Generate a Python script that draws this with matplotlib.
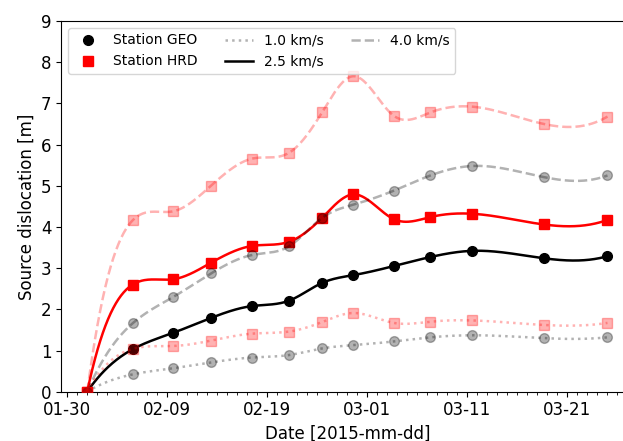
import numpy as np
import pandas as pd
import matplotlib
matplotlib.use("Agg")
import matplotlib.pyplot as plt
import matplotlib.dates as mdates
from matplotlib.lines import Line2D

# ---------------- data ----------------
dates = ["2015-02-01 00:45", "2015-02-05 13:40", "2015-02-09 15:05", "2015-02-13 09:35",
         "2015-02-17 12:45", "2015-02-21 04:50", "2015-02-24 12:00", "2015-02-27 15:05",
         "2015-03-03 16:00", "2015-03-07 08:00", "2015-03-11 12:45", "2015-03-18 16:00",
         "2015-03-25 00:45"]

geo_10 = [0, 0.42, 0.57, 0.71, 0.83, 0.89, 1.05, 1.13, 1.22, 1.32, 1.37, 1.30, 1.32]
geo_25 = [0, 1.03, 1.43, 1.79, 2.08, 2.21, 2.64, 2.83, 3.05, 3.27, 3.42, 3.24, 3.29]
geo_40 = [0, 1.66, 2.30, 2.87, 3.32, 3.53, 4.22, 4.54, 4.88, 5.25, 5.48, 5.21, 5.25]

hrd_10 = [0, 1.04, 1.11, 1.24, 1.41, 1.46, 1.69, 1.91, 1.67, 1.70, 1.73, 1.62, 1.67]
hrd_25 = [0, 2.60, 2.73, 3.13, 3.54, 3.64, 4.22, 4.79, 4.19, 4.24, 4.32, 4.06, 4.17]
hrd_40 = [0, 4.16, 4.38, 5.00, 5.66, 5.80, 6.78, 7.66, 6.70, 6.78, 6.92, 6.50, 6.68]

xtick_dates = ["2015-01-30", "2015-02-09", "2015-02-19", "2015-03-01", "2015-03-11", "2015-03-21"]
speed_labels = ["1.0 km/s", "2.5 km/s", "4.0 km/s"]
station_labels = ["Station GEO", "Station HRD"]


def cubic_spline(x, y, xs):
    """Not-a-knot cubic spline (as used for the smooth curves)."""
    x = np.asarray(x, float)
    y = np.asarray(y, float)
    n = len(x)
    h = np.diff(x)
    A = np.zeros((n, n))
    b = np.zeros(n)
    for i in range(1, n - 1):
        A[i, i - 1] = h[i - 1]
        A[i, i] = 2 * (h[i - 1] + h[i])
        A[i, i + 1] = h[i]
        b[i] = 6 * ((y[i + 1] - y[i]) / h[i] - (y[i] - y[i - 1]) / h[i - 1])
    A[0, 0] = h[1]
    A[0, 1] = -(h[0] + h[1])
    A[0, 2] = h[0]
    A[-1, -3] = h[-1]
    A[-1, -2] = -(h[-2] + h[-1])
    A[-1, -1] = h[-2]
    M = np.linalg.solve(A, b)
    idx = np.clip(np.searchsorted(x, xs) - 1, 0, n - 2)
    x0, x1 = x[idx], x[idx + 1]
    hh = x1 - x0
    y0, y1 = y[idx], y[idx + 1]
    m0, m1 = M[idx], M[idx + 1]
    return (m0 * (x1 - xs) ** 3 / (6 * hh) + m1 * (xs - x0) ** 3 / (6 * hh)
            + (y0 / hh - m0 * hh / 6) * (x1 - xs) + (y1 / hh - m1 * hh / 6) * (xs - x0))


xd = mdates.date2num(pd.to_datetime(dates).to_pydatetime())
xs = np.linspace(xd[0], xd[-1], 600)

plt.rcParams["font.family"] = ["DejaVu Sans"]
fig = plt.figure(figsize=(6.23, 4.41), dpi=100)
ax = fig.add_axes([61.2 / 623, 1 - 391.7 / 441, (633.5 - 61.2) / 623, (391.7 - 21) / 441])

lw = 1.8
ms = 7
fa = 0.3

# solid (2.5 km/s) series
ax.plot(xs, cubic_spline(xd, geo_25, xs), color="black", lw=lw, zorder=3)
ax.plot(xd, geo_25, "o", color="black", ms=ms, zorder=3)
ax.plot(xs, cubic_spline(xd, hrd_25, xs), color="red", lw=lw, zorder=3)
ax.plot(xd, hrd_25, "s", color="red", ms=ms, zorder=3)

# faded series
for vals, col, mk, ls in [(geo_10, "black", "o", ":"), (geo_40, "black", "o", "--"),
                          (hrd_10, "red", "s", ":"), (hrd_40, "red", "s", "--")]:
    ax.plot(xs, cubic_spline(xd, vals, xs), color=col, ls=ls, lw=lw, alpha=fa, zorder=4)
    ax.plot(xd, vals, mk, color=col, ms=ms, alpha=fa, zorder=4)

ax.set_ylim(0, 9)
ax.set_yticks(range(10))
ax.set_xlim(xd[0] - 0.05 * (xd[-1] - xd[0]), xd[-1] + 0.05 * (xd[-1] - xd[0]))
ax.set_xticks(mdates.date2num(pd.to_datetime(xtick_dates).to_pydatetime()))
ax.xaxis.set_major_formatter(mdates.DateFormatter("%m-%d"))
ax.xaxis.set_minor_locator(mdates.DayLocator())
ax.tick_params(labelsize=12)
ax.set_xlabel("Date [2015-mm-dd]", fontsize=12)
ax.set_ylabel("Source dislocation [m]", fontsize=12)

handles = [
    Line2D([], [], ls="none", marker="o", color="black", ms=ms),
    Line2D([], [], ls="none", marker="s", color="red", ms=ms),
    Line2D([], [], ls=":", color="black", alpha=fa, lw=lw),
    Line2D([], [], ls="-", color="black", lw=lw),
    Line2D([], [], ls="--", color="black", alpha=fa, lw=lw),
]
labels = station_labels + [speed_labels[0], speed_labels[1], speed_labels[2]]
ax.legend(handles, labels, ncol=3, loc="upper left", fontsize=10)

fig.savefig("out.png", dpi=100)
